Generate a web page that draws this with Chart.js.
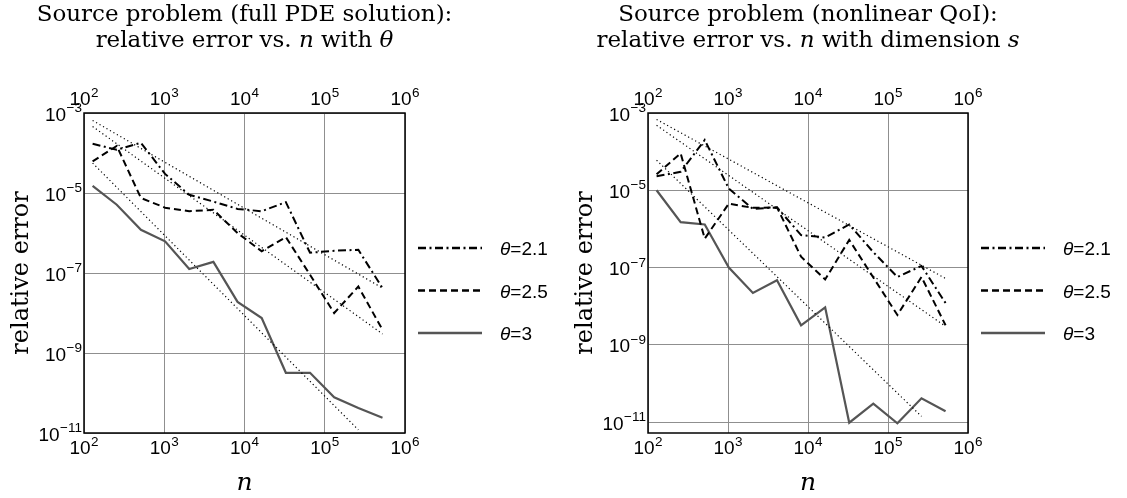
<!DOCTYPE html>
<html>
<head>
<meta charset="utf-8">
<script src="https://cdn.jsdelivr.net/npm/chart.js@4.4.1/dist/chart.umd.min.js"></script>
<style>
  body { margin: 0; background: #fff; }
  #wrap { position: relative; width: 1127px; height: 498px; }
  canvas { position: absolute; top: 0; }
</style>
</head>
<body>
<div id="wrap">
  <canvas id="pdeChart" width="563" height="498" style="left:0"></canvas>
  <canvas id="qoiChart" width="563" height="498" style="left:564px"></canvas>
</div>
<script>
// sample sizes n = 2^7 ... 2^19
const nValues = [128, 256, 512, 1024, 2048, 4096, 8192, 16384, 32768, 65536, 131072, 262144, 524288];
const xTicks = [1e2, 1e3, 1e4, 1e5, 1e6];
const yTicks = [1e-11, 1e-9, 1e-7, 1e-5, 1e-3];
const seriesLabels = ['2.1', '2.5', '3'];

// left: full PDE solution
const pdeTheta21 = [1.7e-4, 1.2e-4, 1.8e-4, 3.0e-5, 9.0e-6, 6.1e-6, 4.0e-6, 3.5e-6, 5.9e-6, 3.2e-7, 3.6e-7, 3.8e-7, 4.2e-8];
const pdeTheta25 = [6.2e-5, 1.5e-4, 7.5e-6, 4.3e-6, 3.5e-6, 3.8e-6, 1.0e-6, 3.5e-7, 7.9e-7, 9.0e-8, 1.0e-8, 4.6e-8, 3.8e-9];
const pdeTheta3 = [1.5e-5, 5.1e-6, 1.2e-6, 6.2e-7, 1.26e-7, 1.9e-7, 1.9e-8, 7.5e-9, 3.2e-10, 3.2e-10, 7.8e-11, 4.2e-11, 2.4e-11];

// right: nonlinear QoI
const qoiTheta21 = [2.3e-5, 3.0e-5, 2.0e-4, 1.1e-5, 3.3e-6, 3.6e-6, 6.9e-7, 6.0e-7, 1.3e-6, 2.5e-7, 5.7e-8, 1.1e-7, 1.2e-8];
const qoiTheta25 = [2.6e-5, 9.0e-5, 5.6e-7, 4.5e-6, 3.5e-6, 3.6e-6, 1.9e-7, 4.9e-8, 5.2e-7, 5.5e-8, 5.9e-9, 5.7e-8, 3.2e-9];
const qoiTheta3 = [1.0e-5, 1.5e-6, 1.3e-6, 1.0e-7, 2.2e-8, 4.7e-8, 3.2e-9, 9.3e-9, 9.6e-12, 3.0e-11, 9.3e-12, 4.1e-11, 1.9e-11];

// dotted reference rates (end points)
const refN = [128, 524288];
const refN3 = [128, 262144];
const pdeRef21 = [6.5e-4, 4.2e-8];
const pdeRef25 = [4.6e-4, 3.0e-9];
const pdeRef3 = [5.6e-5, 1.2e-11];
const qoiRef21 = [6.8e-4, 5.2e-8];
const qoiRef25 = [4.8e-4, 3.0e-9];
const qoiRef3 = [6.0e-5, 1.4e-11];

const SANS = '"Liberation Sans", Arial, sans-serif';
const SERIF = '"DejaVu Serif", serif';

function pts(xs, ys) {
  return xs.map(function(x, i) { return { x: x, y: ys[i] }; });
}

function drawPow(ctx, x, y, e, align) {
  var sup = e < 0 ? '\u2212' + (-e) : String(e);
  ctx.font = '19px ' + SANS;
  var wb = ctx.measureText('10').width;
  ctx.font = '13.5px ' + SANS;
  var ws = ctx.measureText(sup).width;
  var total = wb + ws + 0.5;
  var x0 = align === 'right' ? x - total : x - total / 2;
  ctx.textAlign = 'left';
  ctx.textBaseline = 'alphabetic';
  ctx.font = '19px ' + SANS;
  ctx.fillText('10', x0, y);
  ctx.font = '13.5px ' + SANS;
  ctx.fillText(sup, x0 + wb + 0.5, y - 8.5);
}

function drawSegments(ctx, segs, cx, y, size) {
  var w = 0;
  segs.forEach(function(s) {
    ctx.font = (s[1] ? 'italic ' : '') + size + 'px ' + SERIF;
    w += ctx.measureText(s[0]).width;
  });
  var x = cx - w / 2;
  ctx.textAlign = 'left';
  segs.forEach(function(s) {
    ctx.font = (s[1] ? 'italic ' : '') + size + 'px ' + SERIF;
    ctx.fillText(s[0], x, y);
    x += ctx.measureText(s[0]).width;
  });
}

const decor = {
  id: 'decor',
  afterDraw: function(chart) {
    var ctx = chart.ctx, a = chart.chartArea, o = chart.options.plugins.decor;
    var xs = chart.scales.x, ys = chart.scales.y;
    var cx = (a.left + a.right) / 2;
    ctx.save();
    ctx.fillStyle = '#000';
    ctx.strokeStyle = '#000';
    ctx.lineWidth = 1.5;
    ctx.strokeRect(a.left, a.top, a.right - a.left, a.bottom - a.top);

    xs.ticks.forEach(function(t) {
      var px = xs.getPixelForValue(t.value);
      var e = Math.round(Math.log10(t.value));
      drawPow(ctx, px, a.bottom + 21, e, 'center');
      drawPow(ctx, px, a.top - 8, e, 'center');
    });
    ys.ticks.forEach(function(t) {
      var py = ys.getPixelForValue(t.value);
      drawPow(ctx, a.left - 2, py + 7.5, Math.round(Math.log10(t.value)), 'right');
    });

    // titles
    ctx.textBaseline = 'alphabetic';
    drawSegments(ctx, o.title[0], cx, 21, 23);
    drawSegments(ctx, o.title[1], cx, 47, 23);

    // axis labels
    drawSegments(ctx, [['n', true]], cx, 490, 25);
    ctx.save();
    ctx.translate(28, (a.top + a.bottom) / 2);
    ctx.rotate(-Math.PI / 2);
    drawSegments(ctx, [['relative error', false]], 0, 0, 24);
    ctx.restore();

    // legend
    var rows = [248, 290.5, 333];
    chart.data.datasets.filter(function(d) { return d.inLegend; }).forEach(function(d, i) {
      var y = rows[i];
      ctx.save();
      ctx.strokeStyle = d.borderColor;
      ctx.lineWidth = d.borderWidth + 0.5;
      ctx.setLineDash(d.borderDash || []);
      ctx.beginPath();
      ctx.moveTo(a.right + 13, y);
      ctx.lineTo(a.right + 77, y);
      ctx.stroke();
      ctx.restore();
      ctx.textAlign = 'left';
      ctx.font = 'italic 19px ' + SANS;
      ctx.fillText('\u03b8', a.right + 95, y + 7);
      var w = ctx.measureText('\u03b8').width;
      ctx.font = '19px ' + SANS;
      ctx.fillText('=' + d.label, a.right + 95 + w, y + 7);
    });
    ctx.restore();
  }
};

function makeChart(id, s21, s25, s3, r21, r25, r3, yMin, rightPad, title) {
  var refStyle = { borderColor: '#000', borderWidth: 1.2, borderDash: [1.2, 2.8], pointRadius: 0, tension: 0, fill: false };
  return new Chart(document.getElementById(id), {
    type: 'line',
    data: {
      datasets: [
        Object.assign({ label: 'ref ' + seriesLabels[0], data: pts(refN, r21) }, refStyle),
        Object.assign({ label: 'ref ' + seriesLabels[1], data: pts(refN, r25) }, refStyle),
        Object.assign({ label: 'ref ' + seriesLabels[2], data: pts(refN3, r3) }, refStyle),
        { label: seriesLabels[0], inLegend: true, data: pts(nValues, s21), borderColor: '#000', borderWidth: 2, borderDash: [8, 3.5, 2, 3.5], pointRadius: 0, tension: 0, fill: false },
        { label: seriesLabels[1], inLegend: true, data: pts(nValues, s25), borderColor: '#000', borderWidth: 2, borderDash: [7, 4], pointRadius: 0, tension: 0, fill: false },
        { label: seriesLabels[2], inLegend: true, data: pts(nValues, s3), borderColor: '#555', borderWidth: 2.2, pointRadius: 0, tension: 0, fill: false }
      ]
    },
    options: {
      responsive: false,
      animation: false,
      devicePixelRatio: 1,
      layout: { padding: { top: 113, right: rightPad, left: 0, bottom: 0 } },
      plugins: {
        legend: { display: false },
        tooltip: { enabled: false },
        decor: { title: title }
      },
      scales: {
        x: {
          type: 'logarithmic', min: 1e2, max: 1e6,
          afterBuildTicks: function(s) { s.ticks = xTicks.map(function(v) { return { value: v }; }); },
          afterFit: function(s) { s.height = 65; },
          ticks: { display: false },
          grid: { color: '#8f8f8f', lineWidth: 1, drawTicks: false },
          border: { display: false }
        },
        y: {
          type: 'logarithmic', min: yMin, max: 1e-3,
          afterBuildTicks: function(s) { s.ticks = yTicks.map(function(v) { return { value: v }; }); },
          afterFit: function(s) { s.width = 84; },
          ticks: { display: false },
          grid: { color: '#8f8f8f', lineWidth: 1, drawTicks: false },
          border: { display: false }
        }
      }
    },
    plugins: [decor]
  });
}

makeChart('pdeChart', pdeTheta21, pdeTheta25, pdeTheta3, pdeRef21, pdeRef25, pdeRef3, 1e-11, 158, [
  [['Source problem (full PDE solution):', false]],
  [['relative error vs. ', false], ['n', true], [' with ', false], ['\u03b8', true]]
]);
makeChart('qoiChart', qoiTheta21, qoiTheta25, qoiTheta3, qoiRef21, qoiRef25, qoiRef3, 5.2e-12, 159, [
  [['Source problem (nonlinear QoI):', false]],
  [['relative error vs. ', false], ['n', true], [' with dimension ', false], ['s', true]]
]);
</script>
</body>
</html>
